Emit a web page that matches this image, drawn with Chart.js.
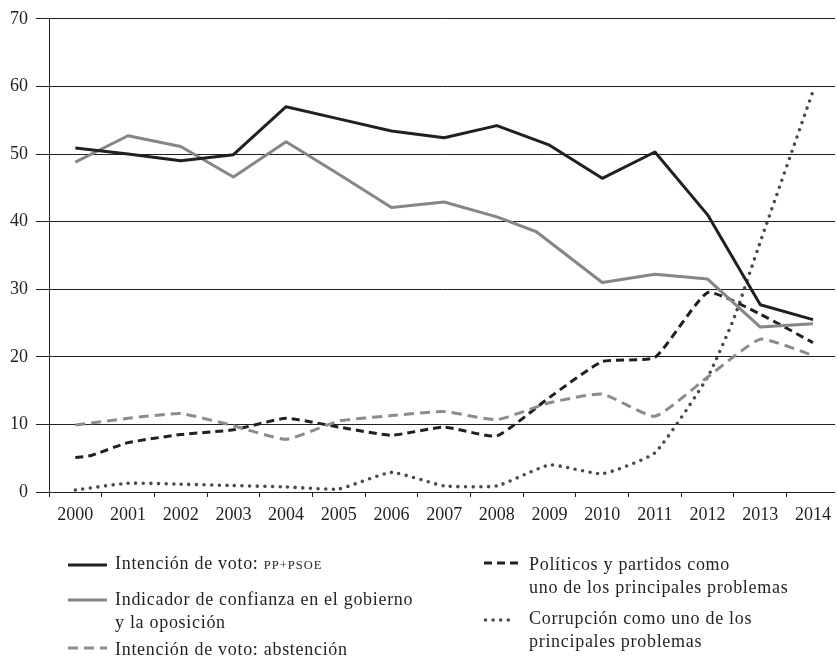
<!DOCTYPE html>
<html><head><meta charset="utf-8">
<script src="https://cdn.jsdelivr.net/npm/chart.js@4/dist/chart.umd.min.js"></script>
<style>
html,body{margin:0;padding:0;background:#fff;}
#wrap{position:relative;width:838px;height:660px;overflow:hidden;}
#c{position:absolute;left:0;top:0;}
.leg{position:absolute;font-family:"Liberation Serif",serif;font-size:18px;color:#231f20;line-height:23px;white-space:nowrap;letter-spacing:0.7px;}
.sw{position:absolute;}
.sc{font-size:12.5px;letter-spacing:1px;}
</style></head><body>
<div id="wrap"><canvas id="c" width="838" height="660"></canvas><div id="legend"></div></div>
<script>
// Tick labels
const yearLabels = ['2000','2001','2002','2003','2004','2005','2006','2007','2008','2009','2010','2011','2012','2013','2014'];
const yTicks = [0,10,20,30,40,50,60,70];

// Series labels (line breaks as in the legend)
const labelVotoPP = 'Intención de voto: PP+PSOE';
const labelConfianza = 'Indicador de confianza en el gobierno\ny la oposición';
const labelAbstencion = 'Intención de voto: abstención';
const labelPoliticos = 'Políticos y partidos como\nuno de los principales problemas';
const labelCorrupcion = 'Corrupción como uno de los\nprincipales problemas';

// Series values (x = year position, y = percentage)
const votoPP_x = [2000,2001,2002,2003,2004,2005,2006,2007,2008,2009,2010,2011,2012,2013,2014];
const votoPP_y = [50.9,50.0,49.0,49.9,57.0,55.2,53.4,52.4,54.2,51.3,46.4,50.3,41.0,27.7,25.5];

const confianza_x = [2000,2001,2002,2003,2004,2005,2006,2007,2008,2008.75,2010,2011,2012,2013,2014];
const confianza_y = [48.8,52.7,51.1,46.6,51.8,47.0,42.1,42.9,40.7,38.5,31.0,32.2,31.5,24.4,24.9];

const abstencion_x = [2000,2001,2002,2003,2004,2005,2006,2007,2008,2009,2010,2011,2012,2013,2014];
const abstencion_y = [9.9,10.9,11.6,9.8,7.8,10.5,11.3,11.9,10.7,13.2,14.5,11.2,17.0,22.6,20.2];

const politicos_x = [2000,2000.3,2001,2002,2003,2004,2005,2006,2007,2008,2009,2010,2011,2012,2013,2014];
const politicos_y = [5.1,5.4,7.3,8.5,9.2,10.9,9.6,8.4,9.6,8.3,14.0,19.3,19.9,29.5,26.3,22.1];

const corrupcion_x = [2000,2001,2002,2003,2004,2005,2006,2007,2008,2009,2010,2011,2012,2012.5,2013,2014];
const corrupcion_y = [0.3,1.3,1.15,0.95,0.75,0.45,2.9,0.9,0.9,4.0,2.7,5.8,17.0,25.7,37.0,59.3];

const pts = (xs, ys) => xs.map((x, i) => ({x: x, y: ys[i]}));

const INK = '#231f20';
const styles = [
  {color: INK, width: 3, dash: [], cap: 'butt', tension: 0},
  {color: '#868686', width: 3, dash: [], cap: 'butt', tension: 0},
  {color: '#8c8c8c', width: 3, dash: [10, 6], cap: 'butt', tension: 0.15},
  {color: INK, width: 3, dash: [8, 5], cap: 'butt', tension: 0.15},
  {color: '#4a4a4c', width: 3.6, dash: [0, 7.6], cap: 'round', tension: 0.15}
];
const series = [
  {label: labelVotoPP, data: pts(votoPP_x, votoPP_y)},
  {label: labelConfianza, data: pts(confianza_x, confianza_y)},
  {label: labelAbstencion, data: pts(abstencion_x, abstencion_y)},
  {label: labelPoliticos, data: pts(politicos_x, politicos_y)},
  {label: labelCorrupcion, data: pts(corrupcion_x, corrupcion_y)}
];

const datasets = series.map((s, i) => ({
  label: s.label.replace('\n', ' '),
  data: s.data,
  borderColor: styles[i].color,
  backgroundColor: styles[i].color,
  borderWidth: styles[i].width,
  borderDash: styles[i].dash,
  borderCapStyle: styles[i].cap,
  borderJoinStyle: 'round',
  tension: styles[i].tension,
  pointRadius: 0,
  fill: false
}));

const firstYear = Number(yearLabels[0]);
const lastYear = Number(yearLabels[yearLabels.length - 1]);
const FONT = {family: '"Liberation Serif", serif', size: 18};

new Chart(document.getElementById('c'), {
  type: 'line',
  data: {datasets: datasets},
  options: {
    responsive: false,
    animation: false,
    devicePixelRatio: 1,
    layout: {padding: {top: 15, right: 0, bottom: 138, left: 0}},
    plugins: {legend: {display: false}, tooltip: {enabled: false}},
    scales: {
      x: {
        type: 'linear',
        min: firstYear - 0.5,
        max: lastYear + 0.42,
        afterBuildTicks: (scale) => {
          const t = [];
          yearLabels.forEach((lab) => {
            const y = Number(lab);
            t.push({value: y - 0.5});
            t.push({value: y});
          });
          scale.ticks = t;
        },
        afterFit: (scale) => { scale.height = 30; },
        grid: {
          drawOnChartArea: false,
          drawTicks: true,
          tickLength: 5,
          tickWidth: 1,
          tickColor: (ctx) => (ctx.tick && Number.isInteger(ctx.tick.value)) ? 'rgba(0,0,0,0)' : INK
        },
        border: {display: false},
        ticks: {
          autoSkip: false,
          maxRotation: 0,
          minRotation: 0,
          padding: 7,
          color: INK,
          font: FONT,
          callback: (v) => Number.isInteger(v) ? String(v) : ''
        }
      },
      y: {
        type: 'linear',
        min: yTicks[0],
        max: yTicks[yTicks.length - 1],
        afterBuildTicks: (scale) => { scale.ticks = yTicks.map(v => ({value: v})); },
        afterFit: (scale) => { scale.width = 49; },
        grid: {color: INK, lineWidth: 1, tickLength: 13, drawTicks: true},
        border: {display: true, color: INK, width: 1},
        ticks: {padding: 8, color: INK, font: FONT}
      }
    }
  }
});

// Legend (HTML text)
const legendPos = [
  {sx: 68, sw: 39, sy: 565, tx: 115, ty: 552},
  {sx: 68, sw: 39, sy: 600, tx: 115, ty: 588},
  {sx: 68, sw: 39, sy: 647.5, tx: 115, ty: 638},
  {sx: 484, sw: 34, sy: 563, tx: 529, ty: 552.5},
  {sx: 484, sw: 33, sy: 619.5, tx: 529, ty: 606.5}
];
const legend = document.getElementById('legend');
series.forEach((s, i) => {
  const p = legendPos[i], st = styles[i];
  const svg = document.createElementNS('http://www.w3.org/2000/svg', 'svg');
  svg.setAttribute('class', 'sw');
  svg.setAttribute('width', p.sw + 6);
  svg.setAttribute('height', 10);
  svg.style.left = (p.sx - 3) + 'px';
  svg.style.top = (p.sy - 5) + 'px';
  const ln = document.createElementNS('http://www.w3.org/2000/svg', 'line');
  const off = st.cap === 'round' ? 1.5 : 0;
  ln.setAttribute('x1', 3 + off); ln.setAttribute('x2', 3 + p.sw - off);
  ln.setAttribute('y1', 5); ln.setAttribute('y2', 5);
  ln.setAttribute('stroke', st.color);
  ln.setAttribute('stroke-width', st.width);
  ln.setAttribute('stroke-linecap', st.cap);
  if (st.dash.length) ln.setAttribute('stroke-dasharray', st.dash.join(' '));
  svg.appendChild(ln);
  legend.appendChild(svg);
  const d = document.createElement('div');
  d.className = 'leg';
  d.style.left = p.tx + 'px';
  d.style.top = p.ty + 'px';
  d.innerHTML = s.label.split('\n').map(line =>
    line.replace('PP+PSOE', '<span class="sc">PP+PSOE</span>')).join('<br>');
  legend.appendChild(d);
});
</script>
</body></html>
